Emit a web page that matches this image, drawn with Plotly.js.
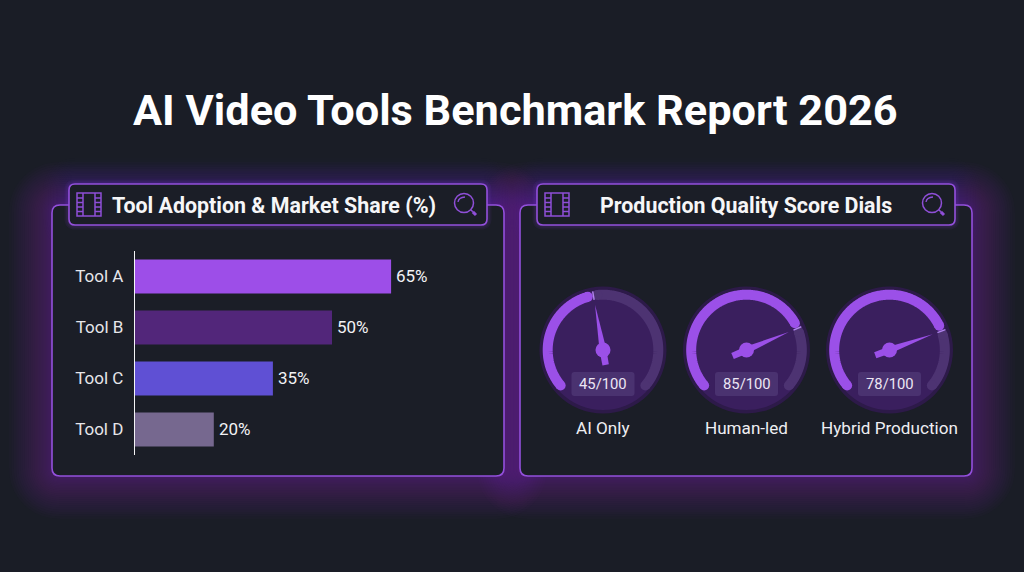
<!DOCTYPE html>
<html><head><meta charset="utf-8">
<script src="https://cdn.plot.ly/plotly-3.0.1.min.js"></script>
<style>html,body{margin:0;padding:0;background:#1a1d26;overflow:hidden}#c{width:1024px;height:572px}</style>
</head><body><div id="c"></div>
<script>
// ---- data ----
const toolNames = ['Tool A','Tool B','Tool C','Tool D'];
const toolShare = [65,50,35,20];
const toolColors = ['#9d4ee8','#52267a','#5f50d4','#76688f'];
const dialNames = ['AI Only','Human-led','Hybrid Production'];
const dialScores = [45,85,78];
const dialNeedleDeg = [-10,67,70];   // where each drawn needle points, degrees clockwise from 12 o'clock
const titleText = 'AI Video Tools Benchmark Report 2026';
const panelTitles = ['Tool Adoption & Market Share (%)','Production Quality Score Dials'];

// ---- helpers ----
const W=1024,H=572,FONT='Roboto, sans-serif';
const fx=x=>x/W, fy=y=>1-y/H;
const P=(x,y)=>fx(x).toFixed(5)+','+fy(y).toFixed(5);
function rr(x0,y0,x1,y1,r){
  return 'M'+P(x0+r,y0)+' L'+P(x1-r,y0)+' Q'+P(x1,y0)+' '+P(x1,y0+r)+' L'+P(x1,y1-r)+' Q'+P(x1,y1)+' '+P(x1-r,y1)+
   ' L'+P(x0+r,y1)+' Q'+P(x0,y1)+' '+P(x0,y1-r)+' L'+P(x0,y0+r)+' Q'+P(x0,y0)+' '+P(x0+r,y0)+' Z';
}
const shapes=[];
const addPath=(path,line,fill,layer)=>shapes.push({type:'path',xref:'paper',yref:'paper',path,
  line:line||{width:0},fillcolor:fill||'rgba(0,0,0,0)',layer:layer||'below'});
const addCircle=(cx,cy,r,fill,line)=>shapes.push({type:'circle',xref:'paper',yref:'paper',
  x0:fx(cx-r),x1:fx(cx+r),y0:fy(cy+r),y1:fy(cy-r),fillcolor:fill,line:line||{width:0},layer:'below'});

const panels=[{x0:52,x1:504,hx0:69,hx1:487},{x0:520,x1:972,hx0:537,hx1:955}];
const PY0=205,PY1=476,HY0=184,HY1=225,BG='#1a1d26',PANEL='#1b1e27',EDGE='#9350dc';

// glow layers first: widths bunch up near the edge so the falloff is soft
panels.forEach(p=>{
  const n=26;
  for(let k=n;k>=1;k--) addPath(rr(p.x0,PY0,p.x1,PY1,8),{width:2+84*Math.pow(k/n,1.5),color:'rgba(140,66,225,0.021)'});
});
panels.forEach(p=>{
  const n=26;
  for(let k=n;k>=1;k--) addPath(rr(p.hx0,HY0,p.hx1,HY1,6),{width:2+50*Math.pow(k/n,2),color:'rgba(140,66,225,0.008)'});
});
panels.forEach(p=>{
  addPath(rr(p.x0,PY0,p.x1,PY1,8),{width:1.6,color:EDGE},PANEL);
  for(let w=9;w>=3;w-=3) addPath(rr(p.hx0,HY0,p.hx1,HY1,6),{width:w,color:'rgba(140,66,225,0.07)'});
  addPath(rr(p.hx0,HY0,p.hx1,HY1,6),{width:1.6,color:EDGE},PANEL);
});

// film-strip icon
function film(x0){
  const y0=193,y1=216,x1=x0+24,c='#8f4fd8',ln={width:1.5,color:c};
  addPath('M'+P(x0,y0)+' L'+P(x1,y0)+' L'+P(x1,y1)+' L'+P(x0,y1)+' Z',ln);
  [6,18].forEach(d=>addPath('M'+P(x0+d,y0)+' L'+P(x0+d,y1),ln));
  [5,9.5,14,18.5].forEach(d=>{
    addPath('M'+P(x0,y0+d)+' L'+P(x0+6,y0+d),ln);
    addPath('M'+P(x1-6,y0+d)+' L'+P(x1,y0+d),ln);
  });
}
film(77);film(545);
// magnifier icon
function glass(cx,cy,r,hx,hy){
  const c='#8f4fd8';
  addCircle(cx,cy,r,'rgba(0,0,0,0)',{width:1.5,color:c});
  addPath('M'+P(cx-r+3.5,cy-1)+' Q'+P(cx-r+4,cy-r+4)+' '+P(cx+1,cy-r+3.5),{width:1.3,color:c});
  const a=Math.atan2(hy-cy,hx-cx);
  addPath('M'+P(cx+r*Math.cos(a),cy+r*Math.sin(a))+' L'+P(cx+(r+3)*Math.cos(a),cy+(r+3)*Math.sin(a)),{width:1.5,color:c});
  addPath('M'+P(cx+(r+3)*Math.cos(a),cy+(r+3)*Math.sin(a))+' L'+P(hx,hy),{width:3,color:c});
}
glass(464,203,9.5,476,215);glass(932,203,9.5,944,215);

// dial geometry
const dialCx=[603,746.5,889.5],dialCy=350,dialR=63.5,ARC=55.3,START=-130,END=130;
const range=(a,b)=>{const o=[];const n=Math.max(2,Math.ceil(Math.abs(b-a)));for(let i=0;i<=n;i++)o.push(a+(b-a)*i/n);return o;};
const traces=[{
  type:'bar',orientation:'h',x:toolShare,y:toolNames,xaxis:'x',yaxis:'y',
  marker:{color:toolColors,line:{width:0}},hoverinfo:'skip'
}];
const layout={
  width:W,height:H,margin:{l:0,r:0,t:0,b:0},paper_bgcolor:BG,plot_bgcolor:'rgba(0,0,0,0)',
  showlegend:false,font:{family:FONT,color:'#fff'},bargap:0.333,
  xaxis:{domain:[fx(135),fx(135+3.94*80)],range:[0,80],visible:false,fixedrange:true},
  yaxis:{domain:[fy(455),fy(251)],type:'category',autorange:false,range:[3.5,-0.5],categoryorder:'array',categoryarray:toolNames,
    showline:true,linecolor:'#f4f4f6',linewidth:1.2,showgrid:false,zeroline:false,ticks:'',ticklabelstandoff:7,
    tickfont:{family:FONT,size:17,color:'#e6e6ea'},fixedrange:true},
  annotations:[],shapes
};
const ann=(text,x,y,size,color,weight)=>layout.annotations.push({text,xref:'paper',yref:'paper',x:fx(x),y:fy(y),
  xanchor:'center',yanchor:'middle',showarrow:false,font:{family:FONT,size,color,weight:weight||400}});
ann(titleText,515,110.7,43.3,'#ffffff',700);
ann(panelTitles[0],273.5,205.7,21.4,'#f6f6f8',700);
ann(panelTitles[1],746,205.7,21.4,'#f6f6f8',700);
toolShare.forEach((v,i)=>layout.annotations.push({text:v+'%',xref:'x',yref:'y',x:v,y:toolNames[i],xanchor:'left',yanchor:'middle',
  xshift:3,yshift:1,showarrow:false,font:{family:FONT,size:17,color:'#f2f2f5'}}));

dialNames.forEach((name,i)=>{
  const id='polar'+(i===0?'':i+1),sub=id,cx=dialCx[i],a=dialNeedleDeg[i];
  addCircle(cx,dialCy,dialR,'#2d1a49');
  addCircle(cx,dialCy,dialR-3.5,'#3a1f5e');
  addPath(rr(cx-31.5,372,cx+31.5,396,3),null,'#4a3270');
  layout[id]={domain:{x:[fx(cx-dialR),fx(cx+dialR)],y:[fy(dialCy+dialR),fy(dialCy-dialR)]},bgcolor:'rgba(0,0,0,0)',
    radialaxis:{visible:false,range:[0,dialR]},angularaxis:{visible:false,rotation:90,direction:'clockwise',thetaunit:'degrees'}};
  const arc=(t0,t1,color)=>{
    const th=range(t0,t1);
    traces.push({type:'scatterpolar',subplot:sub,mode:'lines',r:th.map(()=>ARC),theta:th,line:{color,width:10},hoverinfo:'skip',cliponaxis:false});
    traces.push({type:'scatterpolar',subplot:sub,mode:'markers',r:[ARC,ARC],theta:[t0,t1],marker:{color,size:10,line:{width:0}},hoverinfo:'skip',cliponaxis:false});
  };
  arc(a+4,END,'#4d3372');
  arc(START,a-6,'#9b50e8');
  // tick at the reading
  traces.push({type:'scatterpolar',subplot:sub,mode:'lines',r:[51,59.5],theta:[a,a],line:{color:'#b184ee',width:1.4},hoverinfo:'skip'});
  // needle + tail + hub
  traces.push({type:'scatterpolar',subplot:sub,mode:'lines',fill:'toself',fillcolor:'#9b50e8',line:{width:0,color:'#9b50e8'},
    r:[46,3.5,15.5,15.5,3.5,46],theta:[a,a-90,a-168,a+168,a+90,a],hoverinfo:'skip'});
  traces.push({type:'scatterpolar',subplot:sub,mode:'markers',r:[0],theta:[0],marker:{color:'#9b50e8',size:15,line:{width:0}},hoverinfo:'skip'});
  ann(dialScores[i]+'/100',cx,384,14.8,'#ece6f4');
  ann(name,cx,428,17.1,'#eeeef2');
});

Plotly.newPlot('c',traces,layout,{staticPlot:true,displayModeBar:false});
</script></body></html>
